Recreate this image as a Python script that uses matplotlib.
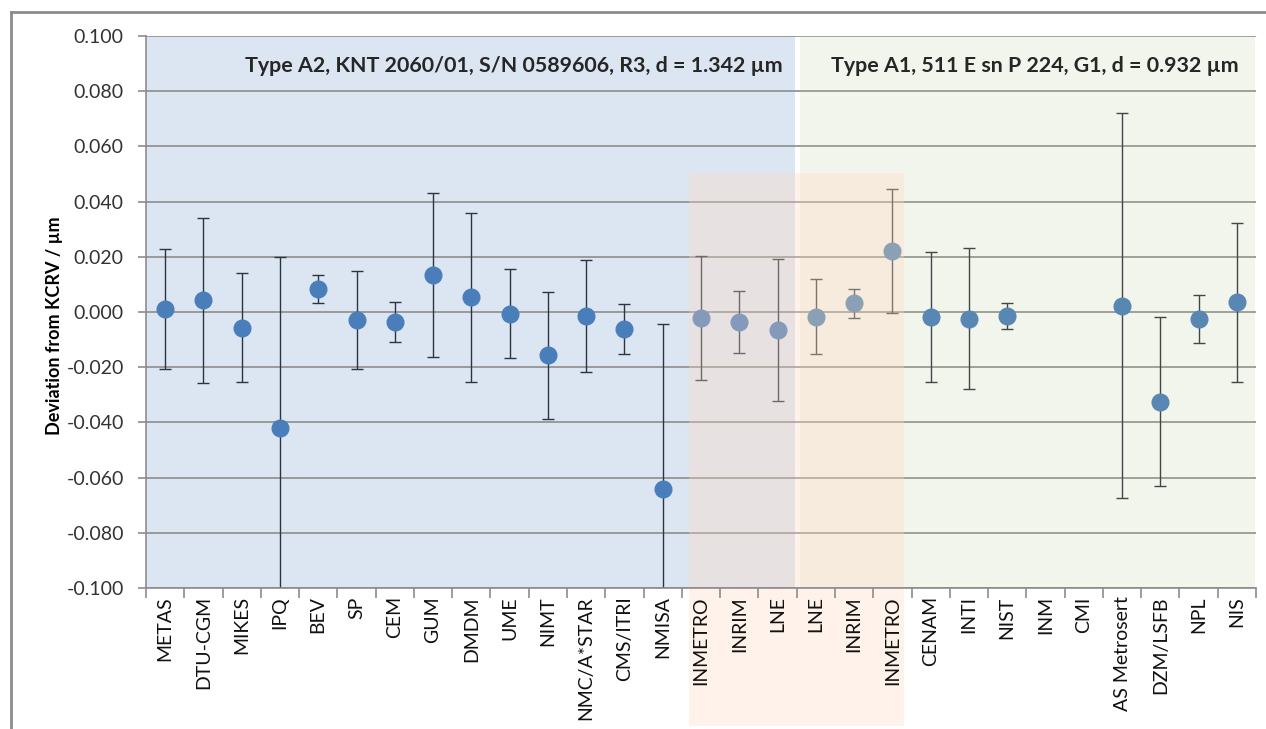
import matplotlib
matplotlib.use("Agg")
import matplotlib.pyplot as plt
import numpy as np
from matplotlib.patches import Rectangle
from matplotlib.lines import Line2D
from matplotlib.ticker import FuncFormatter, FixedLocator

# data
labs = ["METAS", "DTU-CGM", "MIKES", "IPQ", "BEV", "SP", "CEM", "GUM", "DMDM", "UME",
        "NIMT", "NMC/A*STAR", "CMS/ITRI", "NMISA", "INMETRO", "INRIM", "LNE",
        "LNE", "INRIM", "INMETRO", "CENAM", "INTI", "NIST", "INM", "CMI",
        "AS Metrosert", "DZM/LSFB", "NPL", "NIS"]
dev = [0.0012, 0.0042, -0.0057, -0.0420, 0.0083, -0.0029, -0.0036, 0.0133, 0.0054, -0.0006,
       -0.0157, -0.0014, -0.0062, -0.0643, -0.0022, -0.0036, -0.0066,
       -0.0017, 0.0031, 0.0222, -0.0017, -0.0024, -0.0014, np.nan, np.nan,
       0.0023, -0.0325, -0.0025, 0.0035]
unc = [0.0218, 0.0298, 0.0197, 0.0620, 0.0050, 0.0178, 0.0072, 0.0297, 0.0306, 0.0160,
       0.0230, 0.0204, 0.0090, 0.0600, 0.0225, 0.0112, 0.0257,
       0.0135, 0.0052, 0.0224, 0.0236, 0.0256, 0.0047, np.nan, np.nan,
       0.0698, 0.0306, 0.0087, 0.0289]
title_a2 = "Type A2, KNT 2060/01, S/N 0589606, R3, d = 1.342 µm"
title_a1 = "Type A1, 511 E sn P 224, G1, d = 0.932 µm"
n_a2 = 17   # first 17 labs belong to the A2 standard

plt.rcParams['font.family'] = ['Lato', 'DejaVu Sans']

W, H = 1266, 729
fig = plt.figure(figsize=(W / 100, H / 100), dpi=100)
ax = fig.add_axes([146 / W, (H - 588) / H, 1110 / W, 552 / H])

x = np.arange(len(labs))
ax.set_xlim(-0.5, len(labs) - 0.5)
ax.set_ylim(-0.1, 0.1)

# panel backgrounds
ax.axvspan(-0.5, n_a2 - 0.55, color='#dce6f2', zorder=0, lw=0)
ax.axvspan(n_a2 - 0.42, len(labs) - 0.52, color='#a8bc80', alpha=0.15, zorder=5, lw=0)

ax.yaxis.grid(True, color='#8c8c8c', lw=1.2, zorder=1)
ax.set_axisbelow(False)

ax.errorbar(x, dev, yerr=unc, fmt='o', ms=12, color='#4a7ebb', mec='#4a7ebb',
            ecolor='#2c3440', elinewidth=1.0, capsize=4, capthick=1.0, zorder=3)

# orange overlay for the linking labs, runs down over the tick labels
tr = ax.get_xaxis_transform()
y_top = (0.0503 + 0.1) / 0.2
y_bot = -(726 - 588) / 552
ax.add_patch(Rectangle((13.68, y_bot), 19.30 - 13.68, y_top - y_bot, transform=tr,
                       facecolor='#ffd7be', alpha=0.32, lw=0, zorder=6, clip_on=False))

ax.text(9.11, 0.0891, title_a2, ha='center', va='center',
        fontsize=15.4, fontweight='bold', color='#262626', zorder=7)
ax.text(22.72, 0.0891, title_a1, ha='center', va='center',
        fontsize=15.4, fontweight='bold', color='#262626', zorder=7)

ax.yaxis.set_major_locator(FixedLocator(np.linspace(-0.1, 0.1, 11)))
ax.yaxis.set_major_formatter(FuncFormatter(lambda v, p: f"{v:.3f}"))
ax.set_xticks(x)
ax.set_xticklabels(labs, rotation=90, fontsize=14, color='#111111')
ax.set_xticks(np.arange(-0.5, len(labs)), minor=True)
ax.tick_params(axis='x', which='major', length=0, pad=6)
ax.tick_params(axis='x', which='minor', length=7, color='#8c8c8c', width=1.2)
ax.tick_params(axis='y', length=6, color='#8c8c8c', width=1.2, labelsize=14,
               labelcolor='#333333', pad=10)
ax.xaxis.set_zorder(9)
for s in ['top', 'right']:
    ax.spines[s].set_visible(False)
for s in ['left', 'bottom']:
    ax.spines[s].set_color('#8c8c8c')
    ax.spines[s].set_linewidth(1.2)
    ax.spines[s].set_zorder(8)

ax.set_ylabel("Deviation from KCRV / µm", fontsize=13, fontweight='bold')
ax.yaxis.set_label_coords(-0.075, 0.475)

# outer chart frame
fig.add_artist(Line2D([11 / W, 1.0], [1 - 12 / H, 1 - 12 / H], color='#8c8c8c', lw=2))
fig.add_artist(Line2D([11 / W, 11 / W], [0.0, 1 - 12 / H], color='#8c8c8c', lw=2))

fig.savefig("out.png", dpi=100)
